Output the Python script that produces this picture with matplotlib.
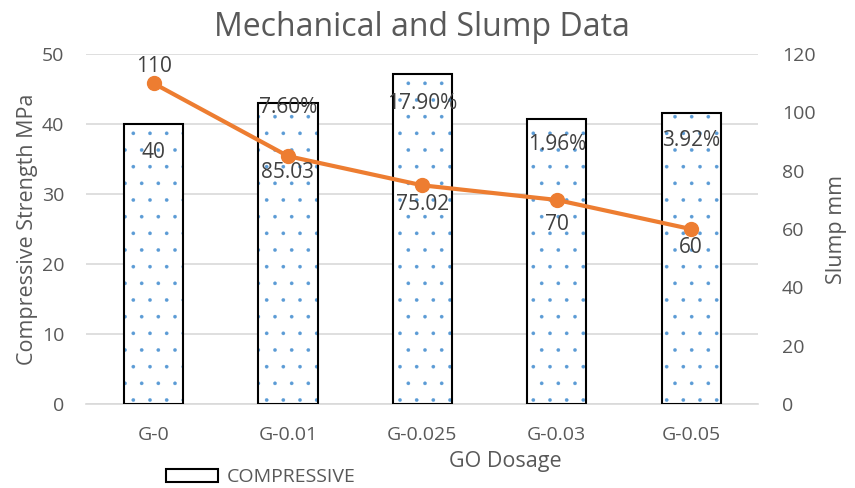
import numpy as np
import matplotlib.pyplot as plt
from matplotlib.patches import Patch

plt.rcParams['font.family'] = ['Open Sans', 'DejaVu Sans']
plt.rcParams['hatch.linewidth'] = 0.2

categories = ["G-0", "G-0.01", "G-0.025", "G-0.03", "G-0.05"]
compressive = [40, 43.04, 47.16, 40.78, 41.57]
bar_labels = ["40", "7.60%", "17.90%", "1.96%", "3.92%"]
slump = [110, 85.03, 75.02, 70, 60]
slump_labels = ["110", "85.03", "75.02", "70", "60"]

GRAY = "#595959"
ORANGE = "#ED7D31"
BLUE = "#5B9BD5"


def main():
    fig, ax = plt.subplots(figsize=(8.55, 4.88), dpi=100)
    fig.subplots_adjust(left=0.101, right=0.887, top=0.889, bottom=0.172)
    x = np.arange(len(categories))
    w = 0.44

    # hatch layer, then outline on top
    ax.bar(x, compressive, w, color="white", edgecolor=BLUE, hatch=".", linewidth=0, zorder=2)
    ax.bar(x, compressive, w, color="none", edgecolor="black", linewidth=1.5, zorder=3)

    # label offsets in pixels from the bar top
    offs = [-28, -5, -29, -26, -27]
    for xi, v, lab, o in zip(x, compressive, bar_labels, offs):
        ax.annotate(lab, (xi, v), xytext=(0, o * 0.72), textcoords="offset points",
                    ha="center", va="center", fontsize=15, color="#404040", zorder=6)

    ax.set_ylim(0, 50)
    ax.set_yticks(range(0, 51, 10))
    ax.set_xlim(-0.5, len(categories) - 0.5)
    ax.set_xticks(x)
    ax.set_xticklabels(categories)
    ax.grid(axis="y", color="#D9D9D9", linewidth=1.2, zorder=0)
    ax.set_axisbelow(True)
    for s in ["top", "left", "right"]:
        ax.spines[s].set_visible(False)
    ax.spines["bottom"].set_color("#D9D9D9")
    ax.spines["bottom"].set_linewidth(1.2)
    ax.tick_params(axis="x", length=0, labelsize=14, colors=GRAY, pad=16)
    ax.tick_params(axis="y", length=0, labelsize=14, colors=GRAY, pad=16)
    ax.set_ylabel("Compressive Strength MPa", fontsize=15.5, color=GRAY)
    ax.yaxis.set_label_coords(-0.072, 0.5)
    ax.set_xlabel("GO Dosage", fontsize=15.5, color=GRAY)
    ax.xaxis.set_label_coords(0.623, -0.135)
    ax.set_title("Mechanical and Slump Data", fontsize=23, color=GRAY, pad=13)

    ax2 = ax.twinx()
    ax2.plot(x, slump, color=ORANGE, linewidth=3, marker="o", markersize=10, zorder=5)
    ax2.set_ylim(0, 120)
    ax2.set_yticks(range(0, 121, 20))
    for s in ["top", "left", "right", "bottom"]:
        ax2.spines[s].set_visible(False)
    ax2.tick_params(length=0, labelsize=14, colors=GRAY, pad=17)
    ax2.set_ylabel("Slump mm", fontsize=15.5, color=GRAY)
    ax2.yaxis.set_label_coords(1.1, 0.5)

    loffs = [17, -16, -19, -25, -18]
    for xi, v, lab, o in zip(x, slump, slump_labels, loffs):
        ax2.annotate(lab, (xi, v), xytext=(0, o * 0.72), textcoords="offset points",
                     ha="center", va="center", fontsize=15, color="#404040", zorder=6)

    # legend swatch: blue dots with a black outline
    dots = Patch(facecolor="white", edgecolor=BLUE, hatch=".", linewidth=0)
    outline = Patch(facecolor="none", edgecolor="black", linewidth=1.5)
    fig.legend([(dots, outline)], ["COMPRESSIVE"], loc="center", bbox_to_anchor=(0.305, 0.022),
               frameon=False, fontsize=14, labelcolor=GRAY, handlelength=2.7,
               handleheight=0.62, handletextpad=0.45)

    fig.savefig("out.png", dpi=100)


if __name__ == "__main__":
    main()
